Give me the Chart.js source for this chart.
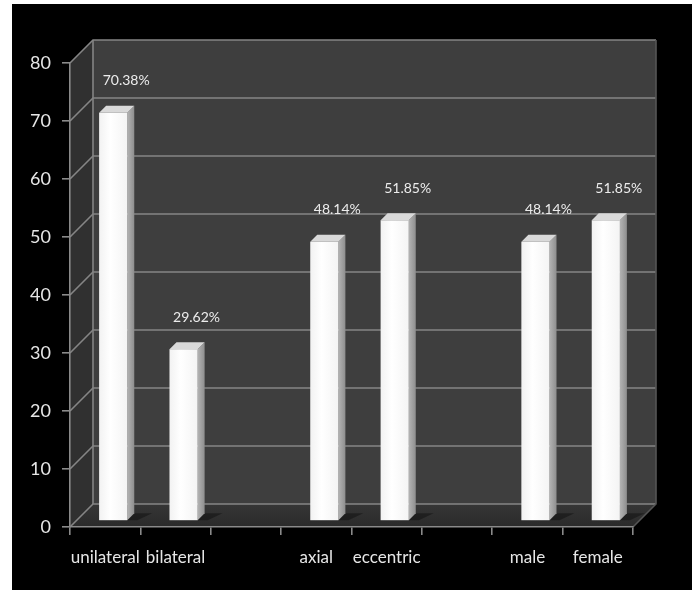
<!DOCTYPE html>
<html lang="en">
<head>
    <meta charset="UTF-8">
    <title>Bar chart</title>
    <script src="https://cdn.jsdelivr.net/npm/chart.js"></script>
    <style>
        body { margin: 0; background: #fff; }
        canvas { display: block; }
    </style>
</head>
<body>
    <canvas id="barChart" width="692" height="590"></canvas>

    <script>
        const categories = ['unilateral', 'bilateral', '', 'axial', 'eccentric', '', 'male', 'female'];
        const values = [70.38, 29.62, null, 48.14, 51.85, null, 48.14, 51.85];
        const yMin = 0;
        const yMax = 80;
        const yStep = 10;

        const DEPTH = 23; // profundidad de las paredes 3D
        const BAR_DX = 8, BAR_DY = 6; // desplazamiento de las barras hacia el fondo
        const BAR_D = 7; // grosor del lateral de cada barra

        function poly(ctx, pts) {
            ctx.beginPath();
            ctx.moveTo(pts[0][0], pts[0][1]);
            for (let i = 1; i < pts.length; i++) ctx.lineTo(pts[i][0], pts[i][1]);
            ctx.closePath();
        }

        const wallPlugin = {
            id: 'walls',
            beforeDraw(chart) {
                const { ctx, chartArea: a, scales: { y } } = chart;
                const d = DEPTH;
                ctx.save();
                ctx.fillStyle = '#ffffff';
                ctx.fillRect(0, 0, chart.width, chart.height);
                ctx.fillStyle = '#000000';
                ctx.fillRect(12, 4, chart.width - 12, chart.height - 4);

                // pared del fondo
                ctx.fillStyle = '#3e3e3e';
                ctx.fillRect(a.left + d, a.top - d, a.right - a.left, a.bottom - a.top);
                // pared izquierda
                poly(ctx, [[a.left, a.top], [a.left + d, a.top - d], [a.left + d, a.bottom - d], [a.left, a.bottom]]);
                ctx.fillStyle = '#303030';
                ctx.fill();
                // suelo
                poly(ctx, [[a.left, a.bottom], [a.left + d, a.bottom - d], [a.right + d, a.bottom - d], [a.right, a.bottom]]);
                const g = ctx.createLinearGradient(0, a.bottom - d, 0, a.bottom);
                g.addColorStop(0, '#363636');
                g.addColorStop(1, '#2a2a2a');
                ctx.fillStyle = g;
                ctx.fill();

                // lineas de la cuadricula
                ctx.strokeStyle = '#858585';
                ctx.lineWidth = 1.6;
                y.ticks.forEach(t => {
                    const py = y.getPixelForValue(t.value);
                    ctx.beginPath();
                    ctx.moveTo(a.left, py);
                    ctx.lineTo(a.left + d, py - d);
                    ctx.lineTo(a.right + d, py - d);
                    ctx.stroke();
                });
                ctx.beginPath();
                ctx.moveTo(a.left + d, a.top - d);
                ctx.lineTo(a.left + d, a.bottom - d);
                ctx.stroke();
                ctx.strokeStyle = '#555';
                ctx.beginPath();
                ctx.moveTo(a.right, a.bottom);
                ctx.lineTo(a.right + d, a.bottom - d);
                ctx.lineTo(a.right + d, a.top - d);
                ctx.stroke();
                ctx.restore();
            }
        };

        const bar3dPlugin = {
            id: 'bar3d',
            afterDatasetsDraw(chart) {
                const { ctx } = chart;
                const meta = chart.getDatasetMeta(0);
                ctx.save();
                meta.data.forEach((el, i) => {
                    if (values[i] === null) return;
                    const w = el.width;
                    const left = el.x - w / 2 + BAR_DX;
                    const right = left + w;
                    const top = el.y - BAR_DY;
                    const bottom = el.base - BAR_DY;
                    const k = BAR_D;

                    // sombra en el suelo
                    poly(ctx, [[right, bottom], [right + k, bottom - k], [right + k + 18, bottom - k], [right + 10, bottom]]);
                    ctx.fillStyle = 'rgba(0,0,0,0.35)';
                    ctx.fill();

                    // lateral
                    poly(ctx, [[right, top], [right + k, top - k], [right + k, bottom - k], [right, bottom]]);
                    const gs = ctx.createLinearGradient(right, 0, right + k, 0);
                    gs.addColorStop(0, '#b4b4b4');
                    gs.addColorStop(1, '#8e8e8e');
                    ctx.fillStyle = gs;
                    ctx.fill();

                    // tapa
                    poly(ctx, [[left, top], [left + k, top - k], [right + k, top - k], [right, top]]);
                    ctx.fillStyle = '#d9d9d9';
                    ctx.fill();

                    // frente
                    const gf = ctx.createLinearGradient(left, 0, right, 0);
                    gf.addColorStop(0, '#f2f2f2');
                    gf.addColorStop(0.4, '#ffffff');
                    gf.addColorStop(1, '#f4f4f4');
                    ctx.fillStyle = gf;
                    ctx.fillRect(left, top, w, bottom - top);

                    // etiqueta
                    ctx.fillStyle = '#ececec';
                    ctx.font = '14px Lato';
                    ctx.textAlign = 'center';
                    ctx.textBaseline = 'middle';
                    ctx.fillText(values[i].toFixed(2) + '%', el.x + 21, el.y - 38);
                });
                ctx.restore();
            }
        };

        Chart.defaults.font.family = 'Lato';

        new Chart(document.getElementById('barChart'), {
            type: 'bar',
            data: {
                labels: categories,
                datasets: [{
                    data: values,
                    backgroundColor: 'rgba(0,0,0,0)',
                    borderWidth: 0,
                    barPercentage: 0.4,
                    categoryPercentage: 1.0
                }]
            },
            options: {
                responsive: false,
                animation: false,
                devicePixelRatio: 1,
                layout: { padding: { top: 63, right: 59, left: 0, bottom: 0 } },
                plugins: {
                    legend: { display: false },
                    tooltip: { enabled: false }
                },
                scales: {
                    x: {
                        afterFit: s => { s.height = 63; },
                        grid: {
                            offset: true,
                            drawOnChartArea: false,
                            drawTicks: true,
                            tickLength: 8,
                            color: '#8a8a8a',
                            lineWidth: 1.6
                        },
                        border: { display: true, color: '#8a8a8a', width: 1.6 },
                        ticks: {
                            color: '#e6e6e6',
                            font: { size: 17 },
                            padding: 12,
                            maxRotation: 0,
                            autoSkip: false
                        }
                    },
                    y: {
                        min: yMin,
                        max: yMax,
                        afterFit: s => { s.width = 70; },
                        grid: {
                            drawOnChartArea: false,
                            drawTicks: true,
                            tickLength: 8,
                            color: '#8a8a8a',
                            lineWidth: 1.6
                        },
                        border: { display: true, color: '#8a8a8a', width: 1.6 },
                        ticks: {
                            stepSize: yStep,
                            color: '#e6e6e6',
                            font: { size: 18 },
                            padding: 11
                        }
                    }
                }
            },
            plugins: [wallPlugin, bar3dPlugin]
        });
    </script>
</body>
</html>
